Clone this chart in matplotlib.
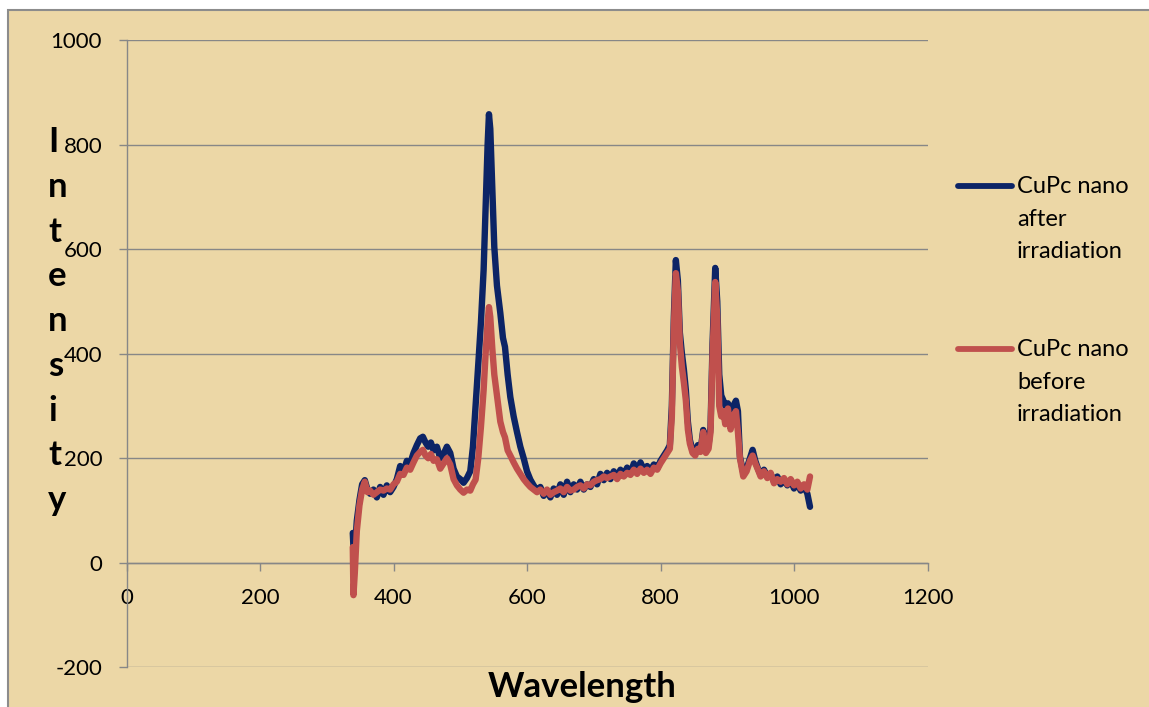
import matplotlib.pyplot as plt
from matplotlib.patches import Rectangle
from matplotlib.lines import Line2D

plt.rcParams['font.family'] = ['Lato', 'DejaVu Sans']
plt.rcParams['axes.unicode_minus'] = False

wavelength = [339, 340, 342, 345, 349, 353, 357, 361, 365, 370, 375, 380, 385, 390, 395,
              400, 405, 410, 415, 420, 425, 430, 435, 440, 444, 448, 452, 456, 460, 465,
              470, 475, 480, 485, 490, 495, 500, 505, 510, 515, 519, 523, 527, 531, 535,
              538, 541, 543, 545, 548, 551, 555, 560, 564, 567, 571, 575, 580, 585, 590,
              595, 600, 605, 610, 615, 620, 625, 630, 635, 640, 645, 650, 655, 660, 665,
              670, 675, 680, 685, 690, 695, 700, 705, 710, 715, 720, 725, 730, 735, 740,
              745, 750, 755, 760, 765, 770, 775, 780, 785, 790, 795, 800, 805, 810, 814,
              817, 820, 823, 826, 829, 832, 835, 838, 841, 844, 848, 852, 856, 860, 864,
              868, 872, 875, 878, 882, 885, 888, 891, 894, 897, 901, 905, 909, 913, 916,
              919, 924, 929, 934, 938, 942, 946, 950, 955, 960, 965, 970, 975, 980, 985,
              990, 995, 1000, 1005, 1010, 1015, 1020, 1024]

after = [57, 30, 20, 80, 120, 150, 158, 140, 132, 140, 125, 145, 130, 148, 135,
         145, 160, 185, 175, 195, 190, 210, 225, 238, 241, 230, 222, 230, 215, 222,
         200, 208, 222, 210, 180, 165, 160, 153, 162, 175, 222, 300, 380, 460, 560,
         680, 800, 858, 830, 720, 604, 530, 478, 430, 413, 360, 317, 280, 250, 222,
         200, 175, 159, 148, 138, 145, 128, 138, 125, 142, 130, 150, 130, 155, 135,
         150, 140, 155, 140, 150, 145, 160, 150, 170, 158, 172, 160, 175, 165, 178,
         168, 182, 170, 190, 175, 192, 178, 185, 175, 188, 180, 195, 205, 215, 225,
         300, 470, 579, 540, 440, 401, 370, 330, 270, 235, 215, 210, 225, 215, 254,
         215, 225, 260, 420, 564, 500, 360, 320, 311, 300, 305, 290, 300, 310, 290,
         203, 172, 180, 200, 216, 195, 180, 168, 178, 165, 170, 155, 165, 150, 160,
         148, 158, 142, 152, 138, 148, 132, 107]

before = [30, -62, -20, 60, 110, 140, 155, 135, 138, 130, 135, 140, 138, 142, 140,
          150, 155, 170, 168, 182, 178, 192, 205, 212, 216, 205, 200, 208, 195, 198,
          180, 190, 200, 188, 160, 148, 140, 134, 140, 138, 150, 159, 200, 260, 330,
          400, 460, 489, 470, 410, 360, 320, 270, 250, 240, 215, 205, 192, 180, 170,
          160, 152, 145, 140, 135, 140, 132, 140, 130, 135, 138, 142, 135, 145, 138,
          140, 145, 148, 142, 150, 148, 155, 158, 160, 165, 162, 165, 168, 160, 170,
          165, 172, 168, 178, 170, 180, 172, 178, 170, 182, 178, 190, 200, 210, 218,
          280, 450, 554, 520, 420, 375, 345, 310, 255, 228, 210, 205, 218, 212, 250,
          210, 218, 250, 400, 537, 470, 300, 280, 290, 265, 295, 255, 280, 290, 250,
          200, 165, 175, 195, 205, 190, 178, 165, 175, 162, 172, 152, 160, 155, 162,
          150, 160, 148, 155, 142, 150, 140, 165]

series_labels = ['CuPc nano\nafter\nirradiation', 'CuPc nano\nbefore\nirradiation']
series_colors = ['#0c2466', '#c0504d']
x_ticks = [0, 200, 400, 600, 800, 1000, 1200]
y_ticks = [-200, 0, 200, 400, 600, 800, 1000]

W, H = 1149, 707
fig = plt.figure(figsize=(W / 100, H / 100), dpi=100, facecolor='white')

# chart area (tan paper look)
bg = Rectangle((8 / W, -0.1), 1.2, 1 - 10 / H + 0.1, transform=fig.transFigure,
               facecolor='#ecd7a6', edgecolor='#8c8c8c', lw=1.5, zorder=-10)
fig.patches.append(bg)

ax = fig.add_axes([126.5 / W, (H - 667.3) / H, 801 / W, 627.3 / H])
ax.set_facecolor('none')
ax.set_zorder(1)

ax.plot(wavelength, after, color=series_colors[0], lw=4.6, solid_joinstyle='round',
        solid_capstyle='round', zorder=3)
ax.plot(wavelength, before, color=series_colors[1], lw=4.6, solid_joinstyle='round',
        solid_capstyle='round', zorder=4)

ax.set_xlim(0, 1200)
ax.set_ylim(-200, 1000)
ax.set_xticks(x_ticks)
ax.set_yticks(y_ticks)
ax.grid(axis='y', color='#878787', lw=1.0)
ax.set_axisbelow(True)

for s in ['top', 'right']:
    ax.spines[s].set_visible(False)
ax.spines['bottom'].set_position(('data', 0))
ax.spines['bottom'].set_color('#878787')
ax.spines['left'].set_color('#878787')
ax.spines['bottom'].set_linewidth(1.0)
ax.spines['left'].set_linewidth(1.0)

ax.tick_params(axis='x', direction='out', length=5.5, width=1.0, color='#878787',
               pad=13, labelsize=16)
ax.tick_params(axis='y', direction='out', length=5.5, width=1.0, color='#878787',
               pad=12, labelsize=16)

# legend drawn by hand, handle beside the first line
for lab, col, yl in zip(series_labels, series_colors, [186, 349]):
    fig.add_artist(Line2D([958 / W, 1012 / W], [1 - yl / H, 1 - yl / H],
                          transform=fig.transFigure, color=col, lw=4.2,
                          solid_capstyle='round'))
    for i, line in enumerate(lab.split('\n')):
        fig.text(1017 / W, 1 - (yl + 1 + i * 32.5) / H, line, fontsize=17,
                 va='center', ha='left')

# axis titles
fig.text(582.5 / W, 1 - 697 / H, 'Wavelength', fontsize=25, fontweight='bold',
         ha='center', va='baseline')
for i, ch in enumerate('Intensity'):
    fig.text(48 / W, 1 - (152 + i * 44.75) / H, ch, fontsize=25, fontweight='bold',
             ha='left', va='baseline')

plt.savefig('out.png', dpi=100)
